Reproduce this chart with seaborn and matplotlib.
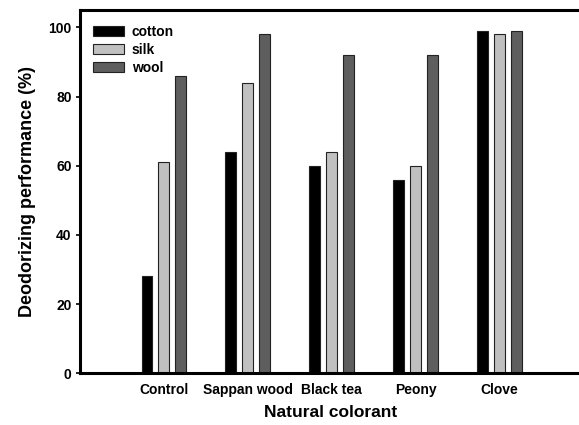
import matplotlib
matplotlib.use("Agg")
import matplotlib.pyplot as plt
import seaborn as sns
import pandas as pd

colorants = ["Control", "Sappan wood", "Black tea", "Peony", "Clove"]
cotton = [28, 64, 60, 56, 99]
silk = [61, 84, 64, 60, 98]
wool = [86, 98, 92, 92, 99]
fabrics = ["cotton", "silk", "wool"]
yticks = [0, 20, 40, 60, 80, 100]

df = pd.DataFrame({
    "colorant": colorants * 3,
    "value": cotton + silk + wool,
    "fabric": ["cotton"] * 5 + ["silk"] * 5 + ["wool"] * 5,
})

sns.set_style("ticks")
plt.rcParams["font.family"] = ["Liberation Sans", "DejaVu Sans"]
plt.rcParams["font.weight"] = "bold"
plt.rcParams["text.color"] = "black"
plt.rcParams["axes.labelcolor"] = "black"
plt.rcParams["xtick.color"] = "black"
plt.rcParams["ytick.color"] = "black"

fig = plt.figure(figsize=(5.79, 4.25), dpi=100)
ax = fig.add_axes([0.138, 0.122, 0.865, 0.854])

palette = {"cotton": "#000000", "silk": "#c0c0c0", "wool": "#5e5e5e"}
sns.barplot(data=df, x="colorant", y="value", hue="fabric", order=colorants,
            hue_order=fabrics, palette=palette, width=0.6, gap=0.35,
            edgecolor="#222222", linewidth=0.8, saturation=1, ax=ax, errorbar=None)

ax.set_xlim(-1, 4.97)
ax.set_ylim(0, 105)
ax.set_yticks(yticks)
ax.set_yticklabels([str(v) for v in yticks], fontsize=10, fontweight="bold")
ax.set_xticks(range(len(colorants)))
ax.set_xticklabels(colorants, fontsize=10, fontweight="bold")
ax.tick_params(axis="x", length=0, pad=7)
ax.tick_params(axis="y", length=3, width=1.2, direction="out", pad=3)

for s in ["top", "left", "bottom"]:
    ax.spines[s].set_linewidth(2.2)
    ax.spines[s].set_color("black")
ax.spines["right"].set_visible(False)

ax.set_xlabel("Natural colorant", fontsize=12.5, fontweight="bold", labelpad=6)
ax.set_ylabel("Deodorizing performance (%)", fontsize=13, fontweight="bold", labelpad=9)

leg = ax.legend(loc="upper left", frameon=False, handlelength=2.2,
                handleheight=0.75, labelspacing=0.3, borderaxespad=0.0,
                bbox_to_anchor=(0.015, 0.975),
                handletextpad=0.6, prop={"weight": "bold", "size": 10})

fig.savefig("out.png", dpi=100)
